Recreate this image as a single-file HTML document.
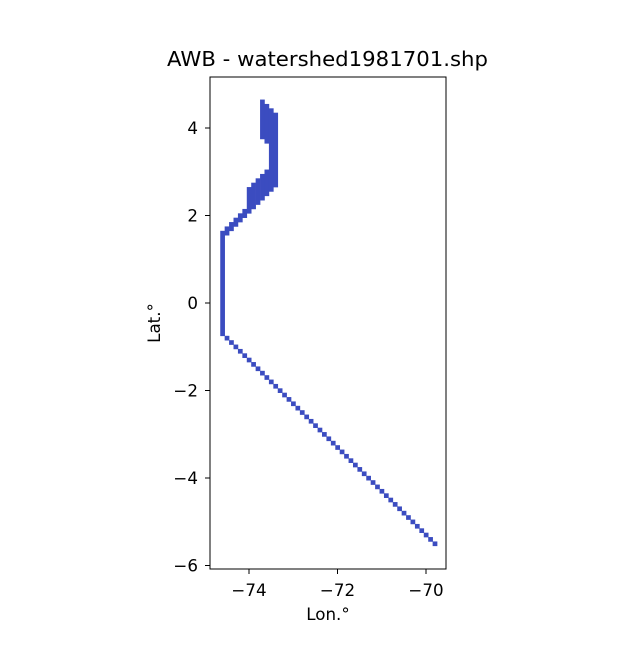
<!DOCTYPE html>
<html><head><meta charset="utf-8"><style>
body{margin:0;background:#fff;}
svg text{font-family:"DejaVu Sans","Liberation Sans",sans-serif;fill:#000;}
</style></head><body>
<svg id="chart" width="640" height="640" xmlns="http://www.w3.org/2000/svg">
<rect width="640" height="640" fill="#fff"/>
<text x="167" y="66" font-size="20" textLength="321" lengthAdjust="spacingAndGlyphs">AWB - watershed1981701.shp</text>
<g id="cells"></g>
<rect x="210" y="77" width="236" height="492" fill="none" stroke="#000" stroke-width="1"/>
<g id="axes"></g>
<text x="328" y="620" font-size="16.7" text-anchor="middle">Lon.°</text>
<text transform="translate(160,323) rotate(-90)" font-size="16.7" text-anchor="middle">Lat.°</text>
</svg>
<script>
// column segments: [lon center, lat min center, lat max center]
const segments = [
 [-74.6,-0.7,1.6],[-74.5,1.6,1.7],[-74.4,1.7,1.8],[-74.3,1.8,1.9],[-74.2,1.9,2.0],
 [-74.1,2.0,2.1],[-74.0,2.1,2.6],[-73.9,2.2,2.7],[-73.8,2.3,2.8],
 [-73.7,2.4,2.9],[-73.7,3.8,4.6],[-73.6,2.5,3.0],[-73.6,3.7,4.5],
 [-73.5,2.6,4.4],[-73.4,2.7,4.3]
];
const diagLon = [-74.5,-74.4,-74.3,-74.2,-74.1,-74.0,-73.9,-73.8,-73.7,-73.6,-73.5,-73.4,-73.3,-73.2,-73.1,-73.0,-72.9,-72.8,-72.7,-72.6,-72.5,-72.4,-72.3,-72.2,-72.1,-72.0,-71.9,-71.8,-71.7,-71.6,-71.5,-71.4,-71.3,-71.2,-71.1,-71.0,-70.9,-70.8,-70.7,-70.6,-70.5,-70.4,-70.3,-70.2,-70.1,-70.0,-69.9,-69.8];
const diagLat = [-0.8,-0.9,-1.0,-1.1,-1.2,-1.3,-1.4,-1.5,-1.6,-1.7,-1.8,-1.9,-2.0,-2.1,-2.2,-2.3,-2.4,-2.5,-2.6,-2.7,-2.8,-2.9,-3.0,-3.1,-3.2,-3.3,-3.4,-3.5,-3.6,-3.7,-3.8,-3.9,-4.0,-4.1,-4.2,-4.3,-4.4,-4.5,-4.6,-4.7,-4.8,-4.9,-5.0,-5.1,-5.2,-5.3,-5.4,-5.5];
const xTicks = [-74,-72,-70];
const yTicks = [4,2,0,-2,-4,-6];
const cell = 0.1;

const xs = v => 249 + (v + 74) * 44.25;
const ys = v => 303 - v * 43.75;
const NS = "http://www.w3.org/2000/svg";
const g = document.getElementById('cells');
function addCell(lon, lo, hi) {
  const r = document.createElementNS(NS, 'rect');
  const x0 = xs(lon - cell/2), x1 = xs(lon + cell/2);
  const y0 = ys(hi + cell/2), y1 = ys(lo - cell/2);
  r.setAttribute('x', x0); r.setAttribute('y', y0);
  r.setAttribute('width', x1 - x0 + 0.3); r.setAttribute('height', y1 - y0 + 0.3);
  r.setAttribute('fill', '#3b4cc0');
  
  
  g.appendChild(r);
}
segments.forEach(s => addCell(s[0], s[1], s[2]));
diagLon.forEach((lon, i) => addCell(lon, diagLat[i], diagLat[i]));

const ax = document.getElementById('axes');
xTicks.forEach(t => {
  const x = xs(t);
  const l = document.createElementNS(NS, 'line');
  l.setAttribute('x1', x); l.setAttribute('x2', x); l.setAttribute('y1', 569); l.setAttribute('y2', 574);
  l.setAttribute('stroke', '#000');
  
  
  ax.appendChild(l);
  const tx = document.createElementNS(NS, 'text');
  tx.setAttribute('x', x); tx.setAttribute('y', 596); tx.setAttribute('font-size', '16.7'); tx.setAttribute('text-anchor', 'middle');
  tx.textContent = '\u2212' + Math.abs(t);
  
  
  ax.appendChild(tx);
});
yTicks.forEach(t => {
  const y = ys(t);
  const l = document.createElementNS(NS, 'line');
  l.setAttribute('x1', 205); l.setAttribute('x2', 210); l.setAttribute('y1', y); l.setAttribute('y2', y);
  l.setAttribute('stroke', '#000');
  
  
  ax.appendChild(l);
  const tx = document.createElementNS(NS, 'text');
  tx.setAttribute('x', 198); tx.setAttribute('y', y + 6); tx.setAttribute('font-size', '16.7'); tx.setAttribute('text-anchor', 'end');
  tx.textContent = (t < 0 ? '\u2212' : '') + Math.abs(t);
  
  
  ax.appendChild(tx);
});
</script>
</body></html>
